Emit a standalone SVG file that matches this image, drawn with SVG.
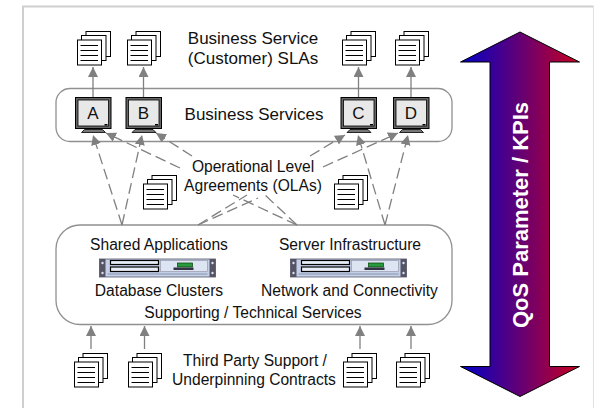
<svg xmlns="http://www.w3.org/2000/svg" width="594" height="408" viewBox="0 0 594 408">
<style>
text{font-family:"Liberation Sans",Arial,sans-serif;font-size:15.6px;fill:#111;text-anchor:middle}
.l{font-size:17px}
.m{font-size:17px}
.c{fill:none;stroke:#808080;stroke-width:1.3}
.d{stroke-dasharray:11 5}
.b{fill:#fff;stroke:#909090;stroke-width:1.3}
.p{fill:#fff;stroke:#000;stroke-width:1}
</style>
<defs>
<linearGradient id="g" x1="0" x2="1" y1="0" y2="0"><stop offset="0" stop-color="#0000c8"/><stop offset="1" stop-color="#c80020"/></linearGradient>
<marker id="a" markerUnits="userSpaceOnUse" markerWidth="12" markerHeight="12" refX="10" refY="5" orient="auto"><path d="M0 0L10 5L0 10Z" fill="#808080"/></marker>
<g id="doc">
<rect class="p" x="9" y="0.500" width="24.500" height="25"/>
<rect class="p" x="4.500" y="4.500" width="24.500" height="25"/>
<rect class="p" x="0.500" y="9" width="24" height="25"/>
<path d="M3.500 14.500H21M3.500 19.500H21M3.500 24.500H21M3.500 29.500H21" stroke="#000" fill="none"/>
</g>
<g id="mon">
<rect x="0" y="0" width="35.500" height="31" fill="#666" stroke="#000"/>
<rect x="2.500" y="2.500" width="30.500" height="26" fill="#e8e8e8" stroke="#000" stroke-width=".8"/>
<rect x="29" y="26.500" width="3" height="1.500" fill="#000"/>
<path d="M9 32H27L30 35H6Z" fill="#777" stroke="#000" stroke-width=".8"/>
</g>
<g id="srv">
<rect x="0" y="0" width="116" height="18" fill="#c4d0e8" stroke="#556" stroke-width=".8"/>
<rect x="0" y="0" width="6" height="18" fill="#556"/><rect x="110" y="0" width="6" height="18" fill="#556"/>
<circle cx="3" cy="4" r="1.200" fill="#dde"/><circle cx="3" cy="14" r="1.200" fill="#dde"/>
<circle cx="113" cy="4" r="1.200" fill="#dde"/><circle cx="113" cy="14" r="1.200" fill="#dde"/>
<rect x="11" y="1.500" width="48" height="4" fill="#e8eef8" stroke="#000" stroke-width="1.200"/>
<rect x="11" y="8" width="48" height="4.500" fill="#e8eef8" stroke="#000" stroke-width="1.200"/>
<rect x="61" y="1.500" width="47" height="11" fill="#dde4f2" stroke="#99a" stroke-width=".7"/>
<rect x="78" y="4" width="15" height="4" fill="#2a9a40" stroke="#040" stroke-width=".7"/>
<rect x="74" y="8.500" width="20" height="2.500" fill="#334"/>
<path d="M8 15H108" stroke="#8894ac"/>
</g>
</defs>
<rect width="594" height="408" fill="#fff"/>
<g id="frame">
<path d="M593.500 6.500H23V408" fill="none" stroke="#cfcfcf" stroke-width="2"/>
<path d="M593.500 6V408" fill="none" stroke="#e0e0e0"/>
</g>
<g id="services"><rect class="b" x="56" y="88.500" width="396" height="53" rx="14"/></g>
<g id="supporting"><rect class="b" x="56" y="225" width="396" height="99.500" rx="24"/></g>
<g id="connectors">
<path class="c" d="M93 97V67" marker-end="url(#a)"/>
<path class="c" d="M143.500 97V67" marker-end="url(#a)"/>
<path class="c" d="M358.500 97V67" marker-end="url(#a)"/>
<path class="c" d="M411 97V67" marker-end="url(#a)"/>
<path class="c" d="M91 349V326" marker-end="url(#a)"/>
<path class="c" d="M144.500 349V326" marker-end="url(#a)"/>
<path class="c" d="M360 349V326" marker-end="url(#a)"/>
<path class="c" d="M411 349V326" marker-end="url(#a)"/>
<path class="c d" d="M122 225L93 135" marker-end="url(#a)"/>
<path class="c d" d="M122 225L142 135" marker-end="url(#a)"/>
<path class="c d" d="M180 168L106 133" marker-end="url(#a)"/>
<path class="c d" d="M192 156L156 133" marker-end="url(#a)"/>
<path class="c d" d="M310 156L345 135" marker-end="url(#a)"/>
<path class="c d" d="M323 167L398 133" marker-end="url(#a)"/>
<path class="c d" d="M385 225L358 135" marker-end="url(#a)"/>
<path class="c d" d="M385 225L408 135" marker-end="url(#a)"/>
<path class="c d" d="M198 225L247 195"/>
<path class="c d" d="M198 225L258 198"/>
<path class="c d" d="M297 225L233 195"/>
<path class="c d" d="M297 225L265 195"/>
</g>
<g id="doc-top-1"><use href="#doc" x="77" y="31"/></g>
<g id="doc-top-2"><use href="#doc" x="127" y="31"/></g>
<g id="doc-top-3"><use href="#doc" x="342" y="31"/></g>
<g id="doc-top-4"><use href="#doc" x="395" y="31"/></g>
<g id="doc-mid-1"><use href="#doc" x="143" y="175"/></g>
<g id="doc-mid-2"><use href="#doc" x="334" y="175"/></g>
<g id="doc-bot-1"><use href="#doc" x="74" y="353"/></g>
<g id="doc-bot-2"><use href="#doc" x="128" y="353"/></g>
<g id="doc-bot-3"><use href="#doc" x="343" y="353"/></g>
<g id="doc-bot-4"><use href="#doc" x="396" y="353"/></g>
<g id="mon-a"><use href="#mon" x="75.500" y="97.500"/><text class="m" x="93" y="118.500">A</text></g>
<g id="mon-b"><use href="#mon" x="126" y="97.500"/><text class="m" x="143.500" y="118.500">B</text></g>
<g id="mon-c"><use href="#mon" x="341" y="97.500"/><text class="m" x="358.500" y="118.500">C</text></g>
<g id="mon-d"><use href="#mon" x="393.500" y="97.500"/><text class="m" x="411" y="118.500">D</text></g>
<g id="srv-1"><use href="#srv" x="99.500" y="259"/></g>
<g id="srv-2"><use href="#srv" x="290.500" y="259"/></g>
<g id="labels">
<text class="l" x="253" y="43.500">Business Service</text>
<text class="l" x="253" y="63.500">(Customer) SLAs</text>
<text class="l" x="254" y="120">Business Services</text>
<text x="253" y="171.500">Operational Level</text>
<text x="253" y="191">Agreements (OLAs)</text>
<text x="159" y="249.500">Shared Applications</text>
<text x="350" y="249.500">Server Infrastructure</text>
<text x="159" y="295.500">Database Clusters</text>
<text x="349.500" y="295.500">Network and Connectivity</text>
<text x="253" y="317.500">Supporting / Technical Services</text>
<text x="255" y="365.500">Third Party Support /</text>
<text x="254" y="384.500">Underpinning Contracts</text>
</g>
<g id="qos">
<path d="M460.500 62L520 32L579.500 62H549.500V366.500H579.500L520 396.500L460.500 366.500H490V62Z" fill="url(#g)" stroke="#000" stroke-width="1"/>
<text transform="translate(527.500 215) rotate(-90)" style="font-size:22px;font-weight:bold;fill:#fff">QoS Parameter / KPIs</text>
</g>
</svg>
